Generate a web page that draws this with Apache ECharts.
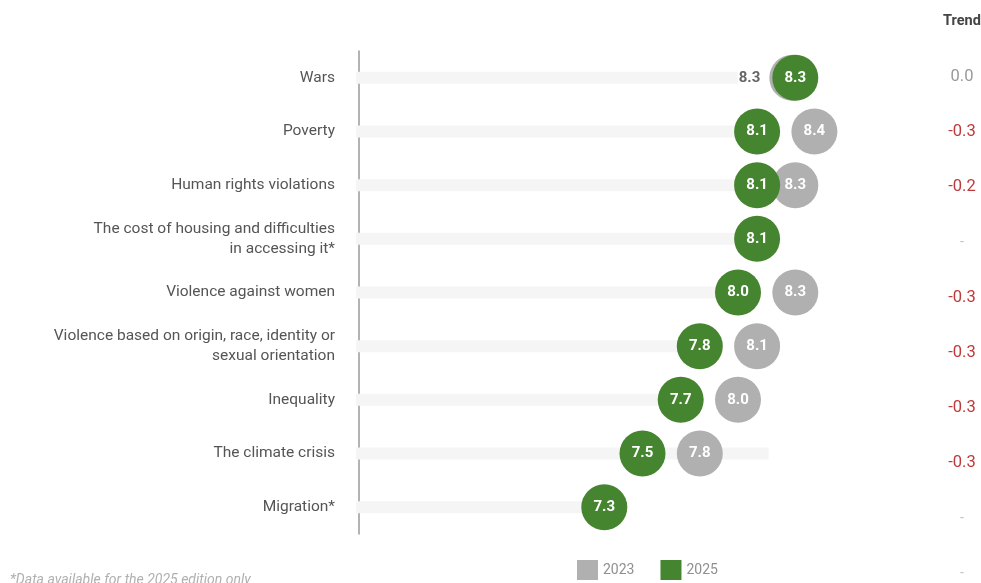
<!DOCTYPE html>
<html>
<head>
<meta charset="utf-8">
<script src="https://cdn.jsdelivr.net/npm/echarts@6/dist/echarts.min.js"></script>
<style>
  html, body { margin: 0; padding: 0; background: #ffffff; }
  #chart { width: 981px; height: 583px; }
</style>
</head>
<body>
<div id="chart"></div>
<script>
// Concerns, rated on a 0-10 scale, for the 2023 and 2025 editions
const categories = [
  'Wars',
  'Poverty',
  'Human rights violations',
  'The cost of housing and difficulties\nin accessing it*',
  'Violence against women',
  'Violence based on origin, race, identity or\nsexual orientation',
  'Inequality',
  'The climate crisis',
  'Migration*'
];
const values2023 = [8.3, 8.4, 8.3, null, 8.3, 8.1, 8.0, 7.8, null];
const values2025 = [8.3, 8.1, 8.1, 8.1, 8.0, 7.8, 7.7, 7.5, 7.3];
// light background tracks behind each row
const track = [8.0, 8.1, 8.1, 8.1, 8.0, 7.8, 7.7, 8.16, 7.3];
// trend column: header, change between editions, plus a trailing placeholder row
const trendLabels = ['Trend'].concat(
  values2025.map((v, i) =>
    values2023[i] == null ? '-' : (v - values2023[i]).toFixed(1).replace('-0.0', '0.0')
  ),
  ['-']
);
const seriesNames = ['2023', '2025'];

const GREEN = '#46852f';
const GRAY = '#b0b0b0';
const FONT = 'Roboto, "Noto Sans", sans-serif';

const chart = echarts.init(document.getElementById('chart'));

const bubbleLabel = {
  show: true,
  position: 'inside',
  color: '#ffffff',
  fontFamily: FONT,
  fontWeight: 'bold',
  fontSize: 15,
  formatter: p => p.value[0].toFixed(1)
};

const data2023 = values2023.map((v, i) => {
  if (v == null) return null;
  const item = { value: [v, i] };
  if (i === 0) {
    // identical score in both editions: tuck the older dot behind and label it on the left
    item.symbolOffset = [-3, 0];
    item.label = { position: 'left', distance: 9, color: '#666666' };
  }
  return item;
}).filter(d => d !== null);

const data2025 = values2025.map((v, i) => ({ value: [v, i] }));

function trendFormatter(v) {
  if (v === 'Trend') return '{h|Trend}';
  if (v === '-') return '{d|-}';
  return parseFloat(v) < 0 ? '{n|' + v + '}' : '{z|' + v + '}';
}

const option = {
  animation: false,
  backgroundColor: '#ffffff',
  grid: [
    { left: 356, width: 573, top: 51, height: 483, outerBoundsMode: 'none' },
    { left: 962, width: 1, top: -6, height: 607, outerBoundsMode: 'none' }
  ],
  xAxis: [
    { type: 'value', gridIndex: 0, min: 6, max: 9, show: false },
    { type: 'value', gridIndex: 1, min: 0, max: 1, show: false }
  ],
  yAxis: [
    {
      type: 'category',
      gridIndex: 0,
      data: categories,
      inverse: true,
      offset: -3,
      axisLine: { show: true, lineStyle: { color: '#9a9a9a', width: 1.5 } },
      axisTick: { show: false },
      splitLine: { show: false },
      axisLabel: {
        margin: 24,
        color: '#555555',
        fontFamily: FONT,
        fontSize: 15.5,
        lineHeight: 20,
        align: 'right'
      }
    },
    {
      type: 'category',
      gridIndex: 1,
      data: trendLabels,
      inverse: true,
      axisLine: { show: false },
      axisTick: { show: false },
      splitLine: { show: false },
      axisLabel: {
        margin: 0,
        align: 'center',
        interval: 0,
        fontFamily: FONT,
        formatter: trendFormatter,
        rich: {
          h: { color: '#444444', fontFamily: FONT, fontSize: 14.5, fontWeight: 'bold' },
          n: { color: '#c0393a', fontFamily: FONT, fontSize: 16.5 },
          z: { color: '#9a9a9a', fontFamily: FONT, fontSize: 16.5 },
          d: { color: '#c4c4c4', fontFamily: FONT, fontSize: 14 }
        }
      }
    }
  ],
  legend: {
    data: seriesNames.map(n => ({ name: n, icon: 'rect' })),
    left: 577,
    top: 560,
    padding: 0,
    itemWidth: 21,
    itemHeight: 20,
    itemGap: 26,
    selectedMode: false,
    textStyle: { color: '#8f8f8f', fontFamily: FONT, fontSize: 14 }
  },
  graphic: [
    {
      type: 'text',
      left: 10,
      top: 573,
      style: { text: '*Data available for the 2025 edition only', fill: '#b0b0b0', font: 'italic 14px Roboto, sans-serif' }
    }
  ],
  series: [
    {
      name: 'track',
      type: 'bar',
      xAxisIndex: 0,
      yAxisIndex: 0,
      data: track,
      barWidth: 12,
      silent: true,
      itemStyle: { color: '#f5f5f5' },
      z: 1
    },
    {
      name: seriesNames[0],
      type: 'scatter',
      xAxisIndex: 0,
      yAxisIndex: 0,
      data: data2023,
      symbol: 'circle',
      symbolSize: 46,
      itemStyle: { color: GRAY, opacity: 1 },
      label: bubbleLabel,
      z: 2
    },
    {
      name: seriesNames[1],
      type: 'scatter',
      xAxisIndex: 0,
      yAxisIndex: 0,
      data: data2025,
      symbol: 'circle',
      symbolSize: 46,
      itemStyle: { color: GREEN, opacity: 1 },
      label: bubbleLabel,
      z: 3
    },
    {
      name: 'trend',
      type: 'scatter',
      xAxisIndex: 1,
      yAxisIndex: 1,
      data: [],
      silent: true
    }
  ]
};

chart.setOption(option);
</script>
</body>
</html>
